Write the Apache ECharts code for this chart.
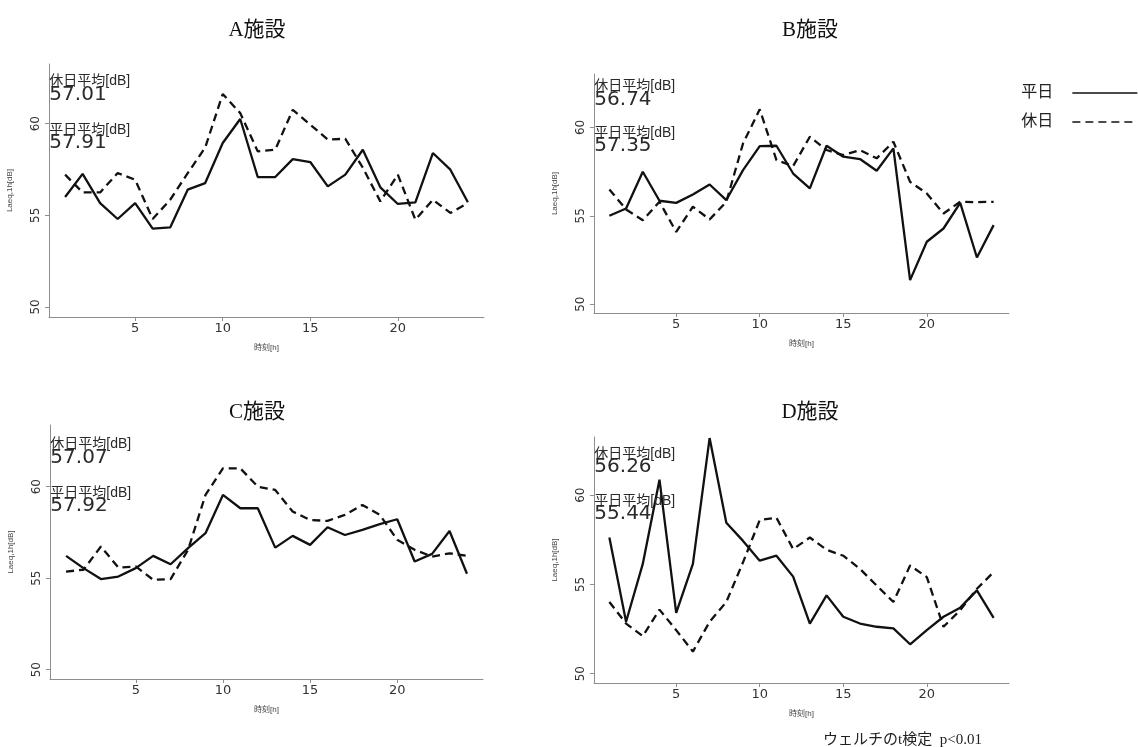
<!DOCTYPE html>
<html>
<head>
<meta charset="utf-8">
<title>施設別 時刻ごとの騒音レベル</title>
<script src="https://cdn.jsdelivr.net/npm/echarts@6/dist/echarts.min.js"></script>
<style>
  html, body { margin: 0; padding: 0; background: #fff; }
  #chart { width: 1138px; height: 747px; }
</style>
</head>
<body>
<div id="chart"></div>
<script>
// Hour of day (x) and hourly Laeq values [dB] per facility
const hours = [1, 2, 3, 4, 5, 6, 7, 8, 9, 10, 11, 12, 13, 14, 15, 16, 17, 18, 19, 20, 21, 22, 23, 24];

const aWeekday = [56.0, 57.26, 55.67, 54.8, 55.67, 54.27, 54.34, 56.4, 56.76, 58.95, 60.26, 57.09, 57.09, 58.07, 57.91, 56.58, 57.22, 58.58, 56.53, 55.62, 55.71, 58.4, 57.49, 55.71];
const aHoliday = [57.22, 56.25, 56.25, 57.31, 56.94, 54.8, 55.85, 57.3, 58.7, 61.62, 60.58, 58.49, 58.58, 60.76, 59.95, 59.13, 59.18, 57.6, 55.76, 57.22, 54.76, 55.85, 55.13, 55.67];

const bWeekday = [55.0, 55.41, 57.49, 55.85, 55.73, 56.2, 56.77, 55.89, 57.58, 58.94, 58.96, 57.39, 56.55, 58.96, 58.34, 58.21, 57.55, 58.81, 51.36, 53.53, 54.28, 55.73, 52.64, 54.47];
const bHoliday = [56.49, 55.36, 54.75, 55.79, 54.09, 55.51, 54.79, 55.79, 59.09, 61.02, 58.15, 57.81, 59.47, 58.72, 58.43, 58.72, 58.25, 59.19, 56.92, 56.26, 55.13, 55.79, 55.77, 55.79];

const cWeekday = [56.22, 55.55, 54.95, 55.09, 55.55, 56.22, 55.76, 56.64, 57.46, 59.55, 58.82, 58.82, 56.67, 57.31, 56.82, 57.78, 57.36, 57.64, 57.95, 58.22, 55.91, 56.33, 57.58, 55.24];
const cHoliday = [55.36, 55.46, 56.73, 55.58, 55.64, 54.91, 54.95, 56.55, 59.55, 61.0, 61.0, 60.0, 59.82, 58.64, 58.18, 58.13, 58.46, 59.0, 58.46, 57.1, 56.55, 56.18, 56.36, 56.22];

const dWeekday = [57.63, 52.91, 56.15, 60.87, 53.41, 56.15, 63.2, 58.46, 57.44, 56.33, 56.61, 55.44, 52.81, 54.39, 53.19, 52.81, 52.63, 52.54, 51.65, 52.44, 53.19, 53.7, 54.67, 53.13];
const dHoliday = [54.02, 52.81, 52.11, 53.59, 52.44, 51.24, 52.91, 54.02, 56.24, 58.61, 58.74, 56.98, 57.63, 56.94, 56.61, 55.87, 54.94, 54.02, 56.06, 55.41, 52.63, 53.56, 54.76, 55.69];

const facilityNames = ['A施設', 'B施設', 'C施設', 'D施設'];
const holidayMeans = ['57.01', '56.74', '57.07', '56.26'];
const weekdayMeans = ['57.91', '57.35', '57.92', '55.44'];

const xTicks = [5, 10, 15, 20];
const yTicks = [50, 55, 60];
const seriesNames = ['平日', '休日'];
const footnote = 'ウェルチのt検定  p<0.01';

const weekdaySets = [aWeekday, bWeekday, cWeekday, dWeekday];
const holidaySets = [aHoliday, bHoliday, cHoliday, dHoliday];

// Panel layout: plot rectangles, y ranges and title anchors
const panels = [
  { left: 49,  top: 64,  width: 435, height: 253, yMin: 49.45, yMax: 63.26, titleX: 252, titleY: 15 },
  { left: 594, top: 74,  width: 415, height: 239, yMin: 49.50, yMax: 63.02, titleX: 805, titleY: 15 },
  { left: 50,  top: 425, width: 433, height: 254, yMin: 49.49, yMax: 63.37, titleX: 252, titleY: 397 },
  { left: 594, top: 437, width: 415, height: 246, yMin: 49.48, yMax: 63.26, titleX: 805, titleY: 397 }
];

const SANS = '"Liberation Sans", Arial, "Noto Sans CJK JP", sans-serif';
const NUM = '"DejaVu Sans", "Liberation Sans", sans-serif';
const SERIF = '"Liberation Serif", "Times New Roman", "Noto Sans CJK JP", serif';
const AXIS_GRAY = '#8e8e8e';

const grids = [], xAxes = [], yAxes = [], series = [], titles = [];

function textPoint(x, y, text, size) {
  return {
    coord: [x, y],
    symbol: 'circle',
    symbolSize: 0,
    label: {
      show: true,
      position: 'right',
      distance: 0,
      formatter: text,
      fontFamily: size > 16 ? NUM : SANS,
      fontSize: size,
      color: '#2a2a2a'
    }
  };
}

panels.forEach((p, i) => {
  grids.push({ left: p.left, top: p.top, width: p.width, height: p.height, containLabel: false });

  xAxes.push({
    type: 'value',
    gridIndex: i,
    min: 0.08,
    max: 24.92,
    name: '時刻[h]',
    nameLocation: 'middle',
    nameGap: 27,
    nameTextStyle: { fontFamily: SANS, fontSize: 8, color: '#444' },
    axisLine: { show: true, onZero: false, lineStyle: { color: AXIS_GRAY, width: 1 } },
    axisTick: { show: true, customValues: xTicks, length: 4, lineStyle: { color: AXIS_GRAY } },
    axisLabel: { customValues: xTicks, margin: 5, fontFamily: NUM, fontSize: 13, color: '#333' },
    splitLine: { show: false }
  });

  yAxes.push({
    type: 'value',
    gridIndex: i,
    min: p.yMin,
    max: p.yMax,
    name: 'Laeq,1h[dB]',
    nameLocation: 'middle',
    nameGap: 35,
    nameTextStyle: { fontFamily: SANS, fontSize: 8, color: '#444' },
    axisLine: { show: true, onZero: false, lineStyle: { color: AXIS_GRAY, width: 1 } },
    axisTick: { show: true, customValues: yTicks, length: 4, lineStyle: { color: AXIS_GRAY } },
    axisLabel: { customValues: yTicks, rotate: 90, margin: 7, fontFamily: NUM, fontSize: 12, color: '#333' },
    splitLine: { show: false }
  });

  const pts = (vals) => hours.map((h, k) => [h, vals[k]]);

  series.push({
    name: seriesNames[0],
    type: 'line',
    xAxisIndex: i,
    yAxisIndex: i,
    data: pts(weekdaySets[i]),
    symbol: 'none',
    lineStyle: { color: '#111', width: 2.3, type: 'solid' },
    itemStyle: { color: '#111' },
    z: 3
  });

  series.push({
    name: seriesNames[1],
    type: 'line',
    xAxisIndex: i,
    yAxisIndex: i,
    data: pts(holidaySets[i]),
    symbol: 'none',
    lineStyle: { color: '#111', width: 2.3, type: [8, 5] },
    itemStyle: { color: '#111' },
    z: 2,
    markPoint: {
      silent: true,
      animation: false,
      data: [
        textPoint(0.1, 62.31, '休日平均[dB]', 14),
        textPoint(0.1, 61.57, holidayMeans[i], 20),
        textPoint(0.1, 59.67, '平日平均[dB]', 14),
        textPoint(0.1, 58.95, weekdayMeans[i], 20)
      ]
    }
  });

  titles.push({
    text: facilityNames[i],
    left: p.titleX,
    top: p.titleY,
    textAlign: 'center',
    textStyle: { fontFamily: SERIF, fontSize: 21, fontWeight: 'normal', color: '#111' }
  });
});

titles.push({
  text: footnote,
  left: 818,
  top: 728,
  textStyle: { fontFamily: SERIF, fontSize: 15, fontWeight: 'normal', color: '#222' }
});

const chart = echarts.init(document.getElementById('chart'), null, { renderer: 'canvas' });
chart.setOption({
  animation: false,
  backgroundColor: '#fff',
  title: titles,
  legend: {
    data: seriesNames,
    orient: 'vertical',
    right: 0,
    top: 84,
    padding: 0,
    align: 'right',
    itemWidth: 65,
    itemHeight: 14,
    itemGap: 11,
    itemStyle: { opacity: 0, borderWidth: 0 },
    lineStyle: { width: 1.3 },
    textStyle: { fontFamily: SERIF, fontSize: 16, lineHeight: 18, color: '#222', padding: [0, 14, 0, 0] }
  },
  grid: grids,
  xAxis: xAxes,
  yAxis: yAxes,
  series: series
});
</script>
</body>
</html>
